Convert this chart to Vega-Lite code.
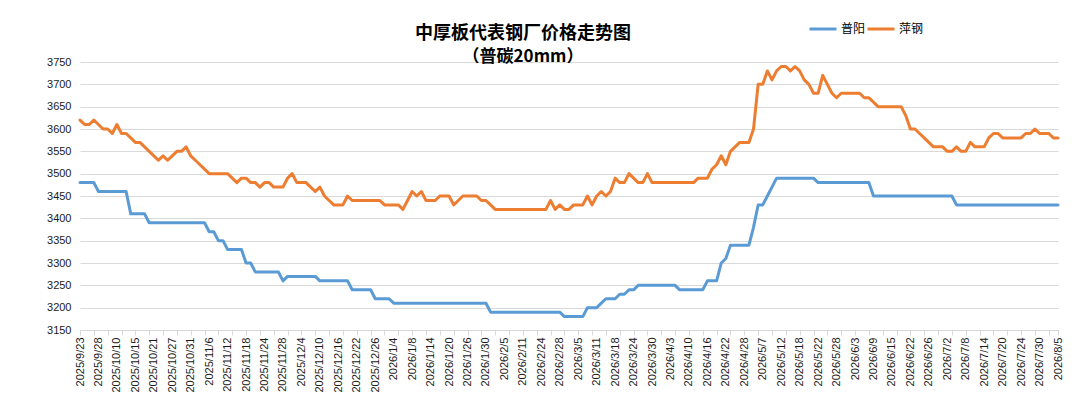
{
  "$schema": "https://vega.github.io/schema/vega-lite/v6.json",
  "width": 978,
  "height": 268,
  "autosize": {"type": "none"},
  "padding": {"left": 80, "top": 62, "right": 28, "bottom": 82},
  "background": "white",
  "config": {"view": {"stroke": null}},
  "title": {
    "text": "中厚板代表钢厂价格走势图",
    "subtitle": "（普碳20mm）",
    "anchor": "middle",
    "frame": "group",
    "dx": -46,
    "offset": -51,
    "font": "Noto Sans CJK SC",
    "fontSize": 18,
    "fontWeight": "bold",
    "color": "#000000",
    "subtitleFont": "Noto Sans CJK SC",
    "subtitleFontSize": 17,
    "subtitleFontWeight": "bold",
    "subtitleColor": "#000000",
    "subtitlePadding": 6
  },
  "data": {
    "values": [
      {"d": "2025/9/23", "普阳": 3480, "萍钢": 3620},
      {"d": "2025/9/24", "普阳": 3480, "萍钢": 3610},
      {"d": "2025/9/25", "普阳": 3480, "萍钢": 3610},
      {"d": "2025/9/26", "普阳": 3480, "萍钢": 3620},
      {"d": "2025/9/28", "普阳": 3460, "萍钢": 3610},
      {"d": "2025/9/29", "普阳": 3460, "萍钢": 3600},
      {"d": "2025/9/30", "普阳": 3460, "萍钢": 3600},
      {"d": "2025/10/9", "普阳": 3460, "萍钢": 3590},
      {"d": "2025/10/10", "普阳": 3460, "萍钢": 3610},
      {"d": "2025/10/11", "普阳": 3460, "萍钢": 3590},
      {"d": "2025/10/13", "普阳": 3460, "萍钢": 3590},
      {"d": "2025/10/14", "普阳": 3410, "萍钢": 3580},
      {"d": "2025/10/15", "普阳": 3410, "萍钢": 3570},
      {"d": "2025/10/16", "普阳": 3410, "萍钢": 3570},
      {"d": "2025/10/17", "普阳": 3410, "萍钢": 3560},
      {"d": "2025/10/20", "普阳": 3390, "萍钢": 3550},
      {"d": "2025/10/21", "普阳": 3390, "萍钢": 3540},
      {"d": "2025/10/22", "普阳": 3390, "萍钢": 3530},
      {"d": "2025/10/23", "普阳": 3390, "萍钢": 3540},
      {"d": "2025/10/24", "普阳": 3390, "萍钢": 3530},
      {"d": "2025/10/27", "普阳": 3390, "萍钢": 3540},
      {"d": "2025/10/28", "普阳": 3390, "萍钢": 3550},
      {"d": "2025/10/29", "普阳": 3390, "萍钢": 3550},
      {"d": "2025/10/30", "普阳": 3390, "萍钢": 3560},
      {"d": "2025/10/31", "普阳": 3390, "萍钢": 3540},
      {"d": "2025/11/3", "普阳": 3390, "萍钢": 3530},
      {"d": "2025/11/4", "普阳": 3390, "萍钢": 3520},
      {"d": "2025/11/5", "普阳": 3390, "萍钢": 3510},
      {"d": "2025/11/6", "普阳": 3370, "萍钢": 3500},
      {"d": "2025/11/7", "普阳": 3370, "萍钢": 3500},
      {"d": "2025/11/10", "普阳": 3350, "萍钢": 3500},
      {"d": "2025/11/11", "普阳": 3350, "萍钢": 3500},
      {"d": "2025/11/12", "普阳": 3330, "萍钢": 3500},
      {"d": "2025/11/13", "普阳": 3330, "萍钢": 3490},
      {"d": "2025/11/14", "普阳": 3330, "萍钢": 3480},
      {"d": "2025/11/17", "普阳": 3330, "萍钢": 3490},
      {"d": "2025/11/18", "普阳": 3300, "萍钢": 3490},
      {"d": "2025/11/19", "普阳": 3300, "萍钢": 3480},
      {"d": "2025/11/20", "普阳": 3280, "萍钢": 3480},
      {"d": "2025/11/21", "普阳": 3280, "萍钢": 3470},
      {"d": "2025/11/24", "普阳": 3280, "萍钢": 3480},
      {"d": "2025/11/25", "普阳": 3280, "萍钢": 3480},
      {"d": "2025/11/26", "普阳": 3280, "萍钢": 3470},
      {"d": "2025/11/27", "普阳": 3280, "萍钢": 3470},
      {"d": "2025/11/28", "普阳": 3260, "萍钢": 3470},
      {"d": "2025/12/1", "普阳": 3270, "萍钢": 3490},
      {"d": "2025/12/2", "普阳": 3270, "萍钢": 3500},
      {"d": "2025/12/3", "普阳": 3270, "萍钢": 3480},
      {"d": "2025/12/4", "普阳": 3270, "萍钢": 3480},
      {"d": "2025/12/5", "普阳": 3270, "萍钢": 3480},
      {"d": "2025/12/8", "普阳": 3270, "萍钢": 3470},
      {"d": "2025/12/9", "普阳": 3270, "萍钢": 3460},
      {"d": "2025/12/10", "普阳": 3260, "萍钢": 3470},
      {"d": "2025/12/11", "普阳": 3260, "萍钢": 3450},
      {"d": "2025/12/12", "普阳": 3260, "萍钢": 3440},
      {"d": "2025/12/15", "普阳": 3260, "萍钢": 3430},
      {"d": "2025/12/16", "普阳": 3260, "萍钢": 3430},
      {"d": "2025/12/17", "普阳": 3260, "萍钢": 3430},
      {"d": "2025/12/18", "普阳": 3260, "萍钢": 3450},
      {"d": "2025/12/19", "普阳": 3240, "萍钢": 3440},
      {"d": "2025/12/22", "普阳": 3240, "萍钢": 3440},
      {"d": "2025/12/23", "普阳": 3240, "萍钢": 3440},
      {"d": "2025/12/24", "普阳": 3240, "萍钢": 3440},
      {"d": "2025/12/25", "普阳": 3240, "萍钢": 3440},
      {"d": "2025/12/26", "普阳": 3220, "萍钢": 3440},
      {"d": "2025/12/29", "普阳": 3220, "萍钢": 3440},
      {"d": "2025/12/30", "普阳": 3220, "萍钢": 3430},
      {"d": "2025/12/31", "普阳": 3220, "萍钢": 3430},
      {"d": "2026/1/4", "普阳": 3210, "萍钢": 3430},
      {"d": "2026/1/5", "普阳": 3210, "萍钢": 3430},
      {"d": "2026/1/6", "普阳": 3210, "萍钢": 3420},
      {"d": "2026/1/7", "普阳": 3210, "萍钢": 3440},
      {"d": "2026/1/8", "普阳": 3210, "萍钢": 3460},
      {"d": "2026/1/9", "普阳": 3210, "萍钢": 3450},
      {"d": "2026/1/12", "普阳": 3210, "萍钢": 3460},
      {"d": "2026/1/13", "普阳": 3210, "萍钢": 3440},
      {"d": "2026/1/14", "普阳": 3210, "萍钢": 3440},
      {"d": "2026/1/15", "普阳": 3210, "萍钢": 3440},
      {"d": "2026/1/16", "普阳": 3210, "萍钢": 3450},
      {"d": "2026/1/19", "普阳": 3210, "萍钢": 3450},
      {"d": "2026/1/20", "普阳": 3210, "萍钢": 3450},
      {"d": "2026/1/21", "普阳": 3210, "萍钢": 3430},
      {"d": "2026/1/22", "普阳": 3210, "萍钢": 3440},
      {"d": "2026/1/23", "普阳": 3210, "萍钢": 3450},
      {"d": "2026/1/26", "普阳": 3210, "萍钢": 3450},
      {"d": "2026/1/27", "普阳": 3210, "萍钢": 3450},
      {"d": "2026/1/28", "普阳": 3210, "萍钢": 3450},
      {"d": "2026/1/29", "普阳": 3210, "萍钢": 3440},
      {"d": "2026/1/30", "普阳": 3210, "萍钢": 3440},
      {"d": "2026/2/2", "普阳": 3190, "萍钢": 3430},
      {"d": "2026/2/3", "普阳": 3190, "萍钢": 3420},
      {"d": "2026/2/4", "普阳": 3190, "萍钢": 3420},
      {"d": "2026/2/5", "普阳": 3190, "萍钢": 3420},
      {"d": "2026/2/6", "普阳": 3190, "萍钢": 3420},
      {"d": "2026/2/9", "普阳": 3190, "萍钢": 3420},
      {"d": "2026/2/10", "普阳": 3190, "萍钢": 3420},
      {"d": "2026/2/11", "普阳": 3190, "萍钢": 3420},
      {"d": "2026/2/12", "普阳": 3190, "萍钢": 3420},
      {"d": "2026/2/13", "普阳": 3190, "萍钢": 3420},
      {"d": "2026/2/14", "普阳": 3190, "萍钢": 3420},
      {"d": "2026/2/24", "普阳": 3190, "萍钢": 3420},
      {"d": "2026/2/25", "普阳": 3190, "萍钢": 3420},
      {"d": "2026/2/26", "普阳": 3190, "萍钢": 3440},
      {"d": "2026/2/27", "普阳": 3190, "萍钢": 3420},
      {"d": "2026/2/28", "普阳": 3190, "萍钢": 3430},
      {"d": "2026/3/2", "普阳": 3180, "萍钢": 3420},
      {"d": "2026/3/3", "普阳": 3180, "萍钢": 3420},
      {"d": "2026/3/4", "普阳": 3180, "萍钢": 3430},
      {"d": "2026/3/5", "普阳": 3180, "萍钢": 3430},
      {"d": "2026/3/6", "普阳": 3180, "萍钢": 3430},
      {"d": "2026/3/9", "普阳": 3200, "萍钢": 3450},
      {"d": "2026/3/10", "普阳": 3200, "萍钢": 3430},
      {"d": "2026/3/11", "普阳": 3200, "萍钢": 3450},
      {"d": "2026/3/12", "普阳": 3210, "萍钢": 3460},
      {"d": "2026/3/13", "普阳": 3220, "萍钢": 3450},
      {"d": "2026/3/17", "普阳": 3220, "萍钢": 3460},
      {"d": "2026/3/18", "普阳": 3220, "萍钢": 3490},
      {"d": "2026/3/19", "普阳": 3230, "萍钢": 3480},
      {"d": "2026/3/20", "普阳": 3230, "萍钢": 3480},
      {"d": "2026/3/23", "普阳": 3240, "萍钢": 3500},
      {"d": "2026/3/24", "普阳": 3240, "萍钢": 3490},
      {"d": "2026/3/25", "普阳": 3250, "萍钢": 3480},
      {"d": "2026/3/26", "普阳": 3250, "萍钢": 3480},
      {"d": "2026/3/27", "普阳": 3250, "萍钢": 3500},
      {"d": "2026/3/30", "普阳": 3250, "萍钢": 3480},
      {"d": "2026/3/31", "普阳": 3250, "萍钢": 3480},
      {"d": "2026/4/1", "普阳": 3250, "萍钢": 3480},
      {"d": "2026/4/2", "普阳": 3250, "萍钢": 3480},
      {"d": "2026/4/3", "普阳": 3250, "萍钢": 3480},
      {"d": "2026/4/7", "普阳": 3250, "萍钢": 3480},
      {"d": "2026/4/8", "普阳": 3240, "萍钢": 3480},
      {"d": "2026/4/9", "普阳": 3240, "萍钢": 3480},
      {"d": "2026/4/10", "普阳": 3240, "萍钢": 3480},
      {"d": "2026/4/13", "普阳": 3240, "萍钢": 3480},
      {"d": "2026/4/14", "普阳": 3240, "萍钢": 3490},
      {"d": "2026/4/15", "普阳": 3240, "萍钢": 3490},
      {"d": "2026/4/16", "普阳": 3260, "萍钢": 3490},
      {"d": "2026/4/17", "普阳": 3260, "萍钢": 3510},
      {"d": "2026/4/20", "普阳": 3260, "萍钢": 3520},
      {"d": "2026/4/21", "普阳": 3300, "萍钢": 3540},
      {"d": "2026/4/22", "普阳": 3310, "萍钢": 3520},
      {"d": "2026/4/23", "普阳": 3340, "萍钢": 3550},
      {"d": "2026/4/24", "普阳": 3340, "萍钢": 3560},
      {"d": "2026/4/27", "普阳": 3340, "萍钢": 3570},
      {"d": "2026/4/28", "普阳": 3340, "萍钢": 3570},
      {"d": "2026/4/29", "普阳": 3340, "萍钢": 3570},
      {"d": "2026/4/30", "普阳": 3380, "萍钢": 3600},
      {"d": "2026/5/6", "普阳": 3430, "萍钢": 3700},
      {"d": "2026/5/7", "普阳": 3430, "萍钢": 3700},
      {"d": "2026/5/8", "普阳": 3450, "萍钢": 3730},
      {"d": "2026/5/9", "普阳": 3470, "萍钢": 3710},
      {"d": "2026/5/11", "普阳": 3490, "萍钢": 3730},
      {"d": "2026/5/12", "普阳": 3490, "萍钢": 3740},
      {"d": "2026/5/13", "普阳": 3490, "萍钢": 3740},
      {"d": "2026/5/14", "普阳": 3490, "萍钢": 3730},
      {"d": "2026/5/15", "普阳": 3490, "萍钢": 3740},
      {"d": "2026/5/18", "普阳": 3490, "萍钢": 3730},
      {"d": "2026/5/19", "普阳": 3490, "萍钢": 3710},
      {"d": "2026/5/20", "普阳": 3490, "萍钢": 3700},
      {"d": "2026/5/21", "普阳": 3490, "萍钢": 3680},
      {"d": "2026/5/22", "普阳": 3480, "萍钢": 3680},
      {"d": "2026/5/25", "普阳": 3480, "萍钢": 3720},
      {"d": "2026/5/26", "普阳": 3480, "萍钢": 3700},
      {"d": "2026/5/27", "普阳": 3480, "萍钢": 3680},
      {"d": "2026/5/28", "普阳": 3480, "萍钢": 3670},
      {"d": "2026/5/29", "普阳": 3480, "萍钢": 3680},
      {"d": "2026/6/1", "普阳": 3480, "萍钢": 3680},
      {"d": "2026/6/2", "普阳": 3480, "萍钢": 3680},
      {"d": "2026/6/3", "普阳": 3480, "萍钢": 3680},
      {"d": "2026/6/4", "普阳": 3480, "萍钢": 3680},
      {"d": "2026/6/5", "普阳": 3480, "萍钢": 3670},
      {"d": "2026/6/8", "普阳": 3480, "萍钢": 3670},
      {"d": "2026/6/9", "普阳": 3450, "萍钢": 3660},
      {"d": "2026/6/10", "普阳": 3450, "萍钢": 3650},
      {"d": "2026/6/11", "普阳": 3450, "萍钢": 3650},
      {"d": "2026/6/12", "普阳": 3450, "萍钢": 3650},
      {"d": "2026/6/15", "普阳": 3450, "萍钢": 3650},
      {"d": "2026/6/16", "普阳": 3450, "萍钢": 3650},
      {"d": "2026/6/17", "普阳": 3450, "萍钢": 3650},
      {"d": "2026/6/18", "普阳": 3450, "萍钢": 3630},
      {"d": "2026/6/22", "普阳": 3450, "萍钢": 3600},
      {"d": "2026/6/23", "普阳": 3450, "萍钢": 3600},
      {"d": "2026/6/24", "普阳": 3450, "萍钢": 3590},
      {"d": "2026/6/25", "普阳": 3450, "萍钢": 3580},
      {"d": "2026/6/26", "普阳": 3450, "萍钢": 3570},
      {"d": "2026/6/29", "普阳": 3450, "萍钢": 3560},
      {"d": "2026/6/30", "普阳": 3450, "萍钢": 3560},
      {"d": "2026/7/1", "普阳": 3450, "萍钢": 3560},
      {"d": "2026/7/2", "普阳": 3450, "萍钢": 3550},
      {"d": "2026/7/3", "普阳": 3450, "萍钢": 3550},
      {"d": "2026/7/6", "普阳": 3430, "萍钢": 3560},
      {"d": "2026/7/7", "普阳": 3430, "萍钢": 3550},
      {"d": "2026/7/8", "普阳": 3430, "萍钢": 3550},
      {"d": "2026/7/9", "普阳": 3430, "萍钢": 3570},
      {"d": "2026/7/10", "普阳": 3430, "萍钢": 3560},
      {"d": "2026/7/13", "普阳": 3430, "萍钢": 3560},
      {"d": "2026/7/14", "普阳": 3430, "萍钢": 3560},
      {"d": "2026/7/15", "普阳": 3430, "萍钢": 3580},
      {"d": "2026/7/16", "普阳": 3430, "萍钢": 3590},
      {"d": "2026/7/17", "普阳": 3430, "萍钢": 3590},
      {"d": "2026/7/20", "普阳": 3430, "萍钢": 3580},
      {"d": "2026/7/21", "普阳": 3430, "萍钢": 3580},
      {"d": "2026/7/22", "普阳": 3430, "萍钢": 3580},
      {"d": "2026/7/23", "普阳": 3430, "萍钢": 3580},
      {"d": "2026/7/24", "普阳": 3430, "萍钢": 3580},
      {"d": "2026/7/27", "普阳": 3430, "萍钢": 3590},
      {"d": "2026/7/28", "普阳": 3430, "萍钢": 3590},
      {"d": "2026/7/29", "普阳": 3430, "萍钢": 3600},
      {"d": "2026/7/30", "普阳": 3430, "萍钢": 3590},
      {"d": "2026/7/31", "普阳": 3430, "萍钢": 3590},
      {"d": "2026/8/3", "普阳": 3430, "萍钢": 3590},
      {"d": "2026/8/4", "普阳": 3430, "萍钢": 3580},
      {"d": "2026/8/5", "普阳": 3430, "萍钢": 3580}
    ]
  },
  "transform": [{"fold": ["普阳", "萍钢"], "as": ["series", "price"]}],
  "mark": {"type": "line", "strokeWidth": 3, "strokeJoin": "round", "strokeCap": "round"},
  "encoding": {
    "x": {
      "field": "d",
      "type": "ordinal",
      "sort": null,
      "scale": {"type": "point", "padding": 0},
      "axis": {
        "title": null,
        "labelExpr": "indexof(['2025/9/23','2025/9/28','2025/10/10','2025/10/15','2025/10/21','2025/10/27','2025/10/31','2025/11/6','2025/11/12','2025/11/18','2025/11/24','2025/11/28','2025/12/4','2025/12/10','2025/12/16','2025/12/22','2025/12/26','2026/1/4','2026/1/8','2026/1/14','2026/1/20','2026/1/26','2026/1/30','2026/2/5','2026/2/11','2026/2/24','2026/2/28','2026/3/5','2026/3/11','2026/3/18','2026/3/24','2026/3/30','2026/4/3','2026/4/10','2026/4/16','2026/4/22','2026/4/28','2026/5/7','2026/5/12','2026/5/18','2026/5/22','2026/5/28','2026/6/3','2026/6/9','2026/6/15','2026/6/22','2026/6/26','2026/7/2','2026/7/8','2026/7/14','2026/7/20','2026/7/24','2026/7/30','2026/8/5'], datum.value) >= 0 ? datum.value : ''",
        "tickOpacity": {
          "condition": {
            "test": "indexof(['2025/9/23','2025/9/26','2025/9/30','2025/10/11','2025/10/15','2025/10/20','2025/10/23','2025/10/28','2025/10/31','2025/11/5','2025/11/10','2025/11/13','2025/11/18','2025/11/21','2025/11/26','2025/12/1','2025/12/4','2025/12/9','2025/12/12','2025/12/17','2025/12/22','2025/12/25','2025/12/30','2026/1/5','2026/1/8','2026/1/13','2026/1/16','2026/1/21','2026/1/26','2026/1/29','2026/2/3','2026/2/6','2026/2/11','2026/2/14','2026/2/26','2026/3/2','2026/3/5','2026/3/10','2026/3/13','2026/3/19','2026/3/24','2026/3/27','2026/4/1','2026/4/7','2026/4/10','2026/4/15','2026/4/20','2026/4/23','2026/4/28','2026/5/6','2026/5/9','2026/5/13','2026/5/18','2026/5/21','2026/5/26','2026/5/29','2026/6/3','2026/6/8','2026/6/11','2026/6/16','2026/6/22','2026/6/25','2026/6/30','2026/7/3','2026/7/8','2026/7/13','2026/7/16','2026/7/21','2026/7/24','2026/7/29','2026/8/3','2026/8/5'], datum.value) >= 0",
            "value": 1
          },
          "value": 0
        },
        "labelAngle": -90,
        "labelOverlap": false,
        "labelBound": false,
        "labelFlush": false,
        "labelFont": "Liberation Sans",
        "labelFontSize": 11,
        "labelColor": "#1a1a1a",
        "labelPadding": 2,
        "tickSize": 5,
        "tickColor": "#D9D9D9",
        "domainColor": "#D9D9D9",
        "grid": false
      }
    },
    "y": {
      "field": "price",
      "type": "quantitative",
      "scale": {"domain": [3150, 3750], "nice": false, "zero": false},
      "axis": {
        "title": null,
        "values": [3150, 3200, 3250, 3300, 3350, 3400, 3450, 3500, 3550, 3600, 3650, 3700, 3750],
        "format": "d",
        "grid": true,
        "gridColor": "#D9D9D9",
        "domain": false,
        "ticks": false,
        "labelFont": "Liberation Sans",
        "labelFontSize": 11,
        "labelColor": "#1a1a1a",
        "labelPadding": 9
      }
    },
    "color": {
      "field": "series",
      "type": "nominal",
      "scale": {"domain": ["普阳", "萍钢"], "range": ["#5B9BD5", "#ED7D31"]},
      "legend": {
        "title": null,
        "orient": "none",
        "direction": "horizontal",
        "legendX": 728,
        "legendY": -48,
        "symbolType": "stroke",
        "symbolSize": 729,
        "symbolStrokeWidth": 3,
        "labelFont": "Noto Sans CJK SC",
        "labelFontSize": 12,
        "labelColor": "#000000",
        "labelOffset": 3,
        "columnPadding": -5
      }
    }
  }
}
